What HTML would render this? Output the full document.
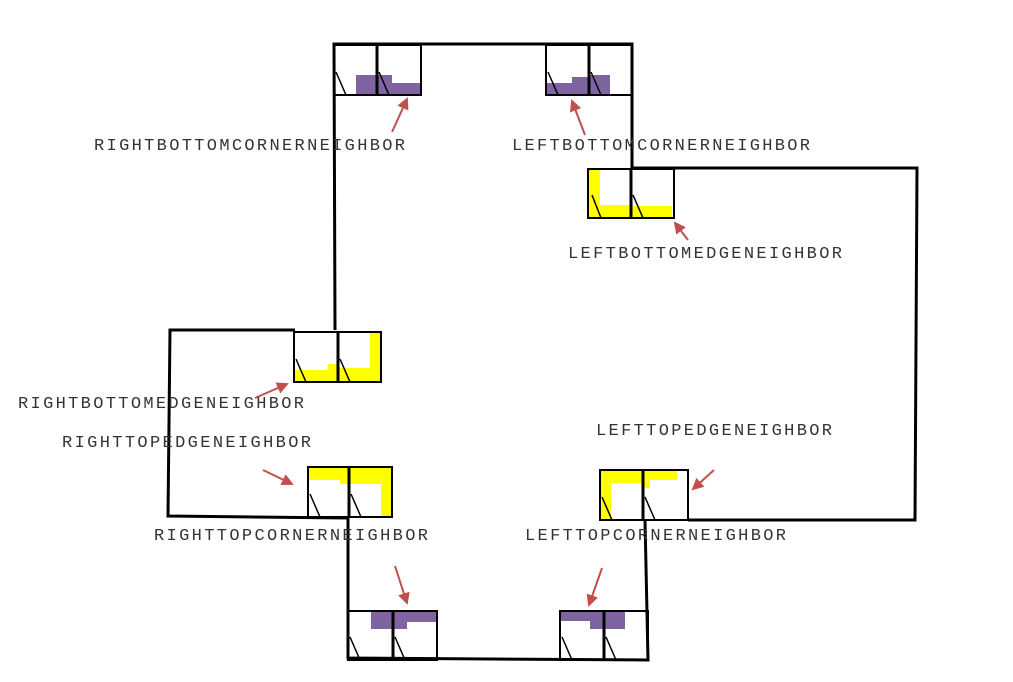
<!DOCTYPE html>
<html><head><meta charset="utf-8"><style>
html,body{margin:0;padding:0;background:#fff;width:1013px;height:682px;overflow:hidden}
text{font-family:"Liberation Mono",monospace;font-size:17px;fill:#333}
</style></head><body>
<svg width="1013" height="682" viewBox="0 0 1013 682" xmlns="http://www.w3.org/2000/svg">
<defs><marker id="a" markerWidth="12" markerHeight="12" refX="10" refY="6" orient="auto" markerUnits="userSpaceOnUse"><path d="M0,0 L12,6 L0,12 z" fill="#c0504d"/></marker></defs>
<g fill="#8064a2">
<rect x="356" y="75" width="21" height="20"/><rect x="377" y="75" width="15" height="20"/><rect x="392" y="83" width="29" height="12"/>
<rect x="545" y="83" width="27" height="12"/><rect x="572" y="77" width="17" height="18"/><rect x="589" y="75" width="21" height="20"/>
<rect x="371" y="611" width="22" height="18"/><rect x="393" y="611" width="44" height="11"/><rect x="393" y="611" width="14" height="18"/>
<rect x="561" y="611" width="43" height="10"/><rect x="590" y="611" width="14" height="18"/><rect x="604" y="611" width="21" height="18"/>
</g>
<g fill="#ffff00">
<rect x="589" y="169" width="11" height="49"/><rect x="589" y="205" width="42" height="13"/><rect x="631" y="206" width="41" height="12"/>
<rect x="295" y="370" width="43" height="12"/><rect x="328" y="364" width="10" height="18"/><rect x="370" y="333" width="11" height="49"/><rect x="338" y="368" width="43" height="14"/>
<rect x="309" y="468" width="40" height="12"/><rect x="340" y="468" width="9" height="16"/><rect x="381" y="468" width="11" height="49"/><rect x="349" y="468" width="43" height="16"/>
<rect x="601" y="471" width="10" height="48"/><rect x="601" y="471" width="42" height="12"/><rect x="644" y="471" width="33" height="9"/><rect x="644" y="471" width="6" height="17"/>
</g>
<g fill="none" stroke="#000" stroke-width="3">
<path d="M335,330 L334,44 L632,44 L632,168 L917,168 L915,520 L688,520"/>
<path d="M645,520 L648,660 L348,658 L348,518 L168,516 L170,330 L295,330"/>
</g>
<g fill="none" stroke="#000" stroke-width="2">
<rect x="334" y="45" width="87" height="50"/><line x1="377" y1="45" x2="377" y2="95" stroke-width="3"/>
<rect x="546" y="45" width="86" height="50"/><line x1="589" y1="45" x2="589" y2="95" stroke-width="3"/>
<rect x="588" y="169" width="86" height="49"/><line x1="631" y1="169" x2="631" y2="218" stroke-width="3"/>
<rect x="294" y="332" width="87" height="50"/><line x1="338" y1="332" x2="338" y2="382" stroke-width="3"/>
<rect x="308" y="467" width="84" height="50"/><line x1="349" y1="467" x2="349" y2="517" stroke-width="3"/>
<rect x="600" y="470" width="88" height="50"/><line x1="643" y1="470" x2="643" y2="520" stroke-width="3"/>
<rect x="348" y="611" width="89" height="49"/><line x1="393" y1="611" x2="393" y2="660" stroke-width="3"/>
<rect x="560" y="611" width="88" height="49"/><line x1="604" y1="611" x2="604" y2="660" stroke-width="3"/>
</g>
<g stroke="#000" stroke-width="1.5">
<line x1="336" y1="72" x2="346" y2="95"/><line x1="379" y1="72" x2="389" y2="95"/>
<line x1="548" y1="72" x2="558" y2="95"/><line x1="591" y1="72" x2="601" y2="95"/>
<line x1="592" y1="195" x2="601" y2="218"/><line x1="633" y1="195" x2="643" y2="218"/>
<line x1="296" y1="359" x2="306" y2="382"/><line x1="340" y1="359" x2="350" y2="382"/>
<line x1="310" y1="494" x2="320" y2="517"/><line x1="351" y1="494" x2="361" y2="517"/>
<line x1="602" y1="497" x2="612" y2="520"/><line x1="645" y1="497" x2="655" y2="520"/>
<line x1="350" y1="637" x2="360" y2="660"/><line x1="395" y1="637" x2="405" y2="660"/>
<line x1="562" y1="637" x2="572" y2="660"/><line x1="606" y1="637" x2="616" y2="660"/>
</g>
<g stroke="#c0504d" stroke-width="2" marker-end="url(#a)">
<line x1="392" y1="132" x2="407" y2="99"/><line x1="585" y1="135" x2="572" y2="101"/>
<line x1="688" y1="240" x2="675" y2="223"/><line x1="255" y1="398" x2="287" y2="384"/>
<line x1="263" y1="470" x2="292" y2="484"/><line x1="714" y1="470" x2="693" y2="489"/>
<line x1="395" y1="566" x2="407" y2="603"/><line x1="602" y1="568" x2="589" y2="605"/>
</g>
<text x="94" y="150" textLength="311" lengthAdjust="spacing">RIGHTBOTTOMCORNERNEIGHBOR</text>
<text x="512" y="150" textLength="298" lengthAdjust="spacing">LEFTBOTTOMCORNERNEIGHBOR</text>
<text x="568" y="258" textLength="274" lengthAdjust="spacing">LEFTBOTTOMEDGENEIGHBOR</text>
<text x="18" y="408" textLength="286" lengthAdjust="spacing">RIGHTBOTTOMEDGENEIGHBOR</text>
<text x="62" y="447" textLength="249" lengthAdjust="spacing">RIGHTTOPEDGENEIGHBOR</text>
<text x="596" y="435" textLength="236" lengthAdjust="spacing">LEFTTOPEDGENEIGHBOR</text>
<text x="154" y="540" textLength="274" lengthAdjust="spacing">RIGHTTOPCORNERNEIGHBOR</text>
<text x="525" y="540" textLength="261" lengthAdjust="spacing">LEFTTOPCORNERNEIGHBOR</text>
</svg>
</body></html>
